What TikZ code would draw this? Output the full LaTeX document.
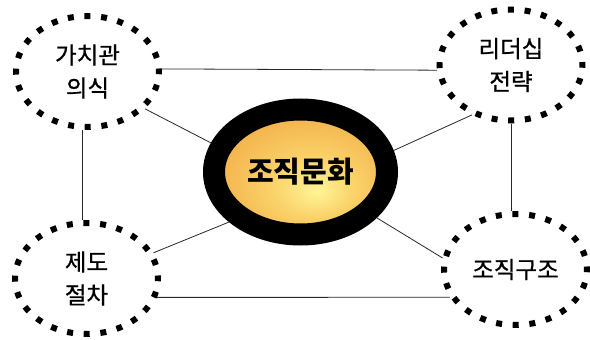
\documentclass[tikz,border=0pt]{standalone}
\usepackage{fontspec}
\newfontfamily\kr[FakeBold=0.8]{Noto Sans CJK KR}
\newfontfamily\krb{Noto Sans CJK KR}
\usetikzlibrary{shapes.geometric}
\definecolor{glowA}{RGB}{255,244,150}
\definecolor{glowB}{RGB}{250,210,105}
\definecolor{glowC}{RGB}{238,150,50}
\definecolor{linkc}{RGB}{40,40,40}
\pgfdeclareradialshading{glow}{\pgfpoint{5bp}{-8bp}}{color(0bp)=(glowA); color(12bp)=(glowB); color(40bp)=(glowC); color(50bp)=(glowC)}
\begin{document}
\begin{tikzpicture}[x=1pt,y=-1pt,
  topic/.style={ellipse, draw, line width=6pt, dash pattern=on 6pt off 10.7pt, dash phase=3pt,
    minimum width=143pt, minimum height=111pt, inner sep=0pt, align=center,
    font=\kr\fontsize{23.5}{33}\selectfont},
  core/.style={ellipse, draw, line width=22pt, shade, shading=glow,
    minimum width=173pt, minimum height=125pt, inner sep=0pt,
    font=\krb\bfseries\fontsize{29}{32}\selectfont},
  link/.style={draw=linkc, line width=0.8pt}]
\useasboundingbox (0,0) rectangle (590,340);
\node[topic] (tl) at (87.5,71.5) {가치관\\의식};
\node[topic] (tr) at (511,65) {리더십\\전략};
\node[topic] (bl) at (86.5,278.5) {제도\\절차};
\node[topic] (br) at (515.5,269.5) {조직구조};
\node[core] (c) at (300.5,172) {조직문화};
\draw[link] (tl.2) -- (tr.184);
\draw[link] (tl.-33) -- (c.162);
\draw[link] (tl.265) -- (tl.265 |- bl.north);
\draw[link] (tr.232) -- (c.13);
\draw[link] (tr.270) -- (tr.270 |- br.north);
\draw[link] (bl.21) -- (c.215);
\draw[link] (bl.-15) -- (br.203);
\draw[link] (c.-31) -- (br.171);
\end{tikzpicture}
\end{document}
